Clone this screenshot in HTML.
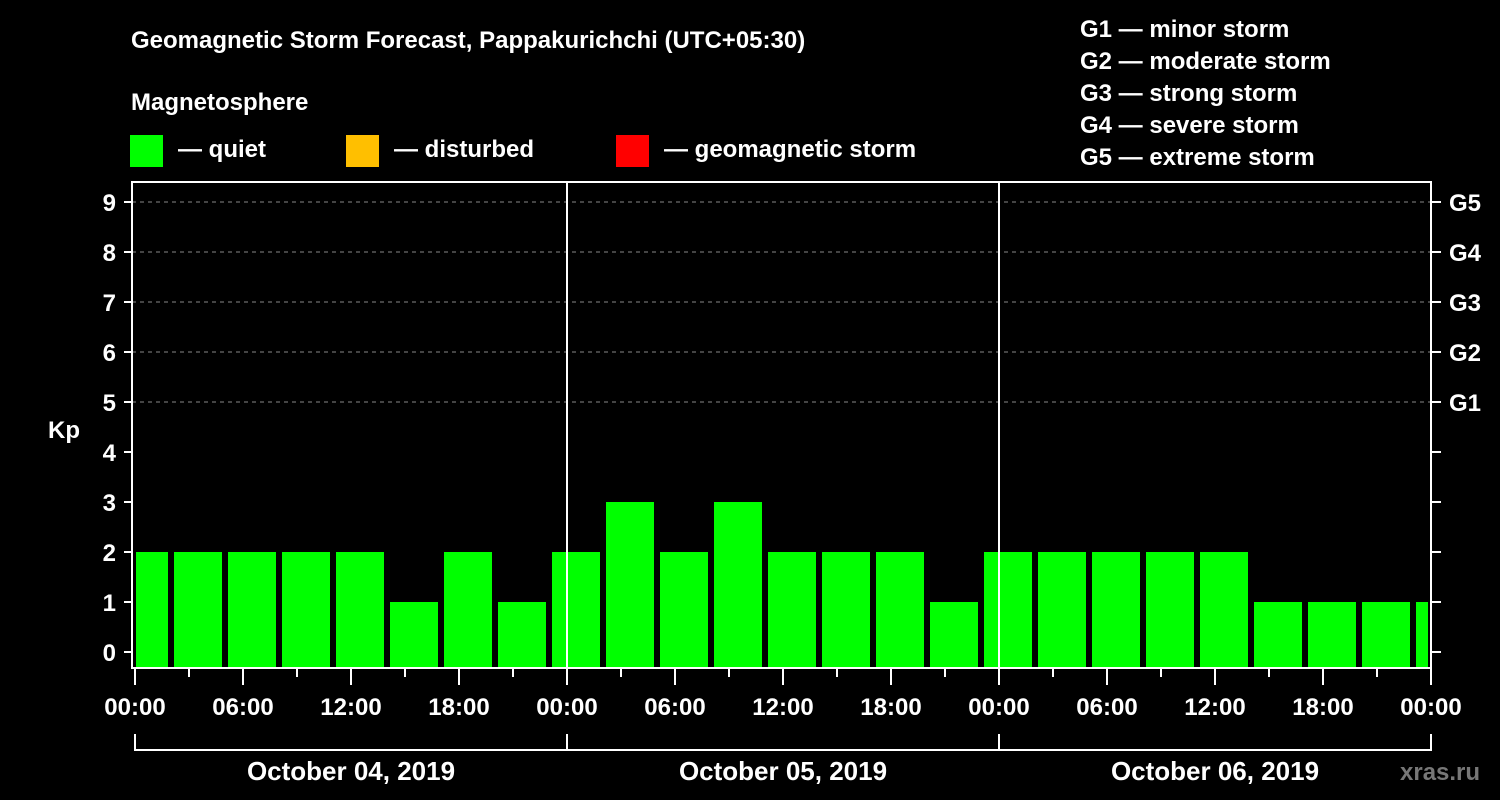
<!DOCTYPE html>
<html><head><meta charset="utf-8"><style>
html,body{margin:0;padding:0;background:#000;width:1500px;height:800px;overflow:hidden}
svg text{font-family:"Liberation Sans",Arial,sans-serif;font-weight:bold;fill:#fff}
</style></head><body>
<svg id="chart" width="1500" height="800" xmlns="http://www.w3.org/2000/svg">
<text x="131" y="48" font-size="24">Geomagnetic Storm Forecast, Pappakurichchi (UTC+05:30)</text>
<text x="131" y="110" font-size="24">Magnetosphere</text>
<g><rect x="130" y="135" width="33" height="32" fill="#00ff00"/><text x="178" y="157" font-size="24">— quiet</text></g>
<g><rect x="346" y="135" width="33" height="32" fill="#ffbf00"/><text x="394" y="157" font-size="24">— disturbed</text></g>
<g><rect x="616" y="135" width="33" height="32" fill="#ff0000"/><text x="664" y="157" font-size="24">— geomagnetic storm</text></g>
<g font-size="24">
<text x="1080" y="37">G1 — minor storm</text>
<text x="1080" y="69">G2 — moderate storm</text>
<text x="1080" y="101">G3 — strong storm</text>
<text x="1080" y="133">G4 — severe storm</text>
<text x="1080" y="165">G5 — extreme storm</text>
</g>
<text x="64" y="438" font-size="24" text-anchor="middle">Kp</text>
<text x="1400" y="780" font-size="24" style="fill:#777">xras.ru</text>
<g id="grid"></g><g id="bars"></g><g id="axes"></g>
</svg>
<script>
const kpValues=[2,2,2,2,2,1,2,1,2,3,2,3,2,2,2,1,2,2,2,2,2,1,1,1,1];
const firstSlotHour=-1; // first bar slot starts at -1h (local), 3h slots
const yTicks=[0,1,2,3,4,5,6,7,8,9];
const gLabels=["G1","G2","G3","G4","G5"];
const gLevels=[5,6,7,8,9];
const xTickLabels=["00:00","06:00","12:00","18:00","00:00","06:00","12:00","18:00","00:00","06:00","12:00","18:00","00:00"];
const dayLabels=["October 04, 2019","October 05, 2019","October 06, 2019"];
const NS="http://www.w3.org/2000/svg";
const L=132,R=1431,T=182,B=668,X0=135;
const xs=h=>X0+h*18, ys=v=>652-v*50;
function mk(p,tag,a){const e=document.createElementNS(NS,tag);for(const k in a)e.setAttribute(k,a[k]);p.appendChild(e);return e;}
const grid=document.getElementById('grid'),bars=document.getElementById('bars'),axes=document.getElementById('axes');
gLevels.forEach(v=>{const l=mk(grid,'line',{x1:L,x2:R,y1:ys(v),y2:ys(v),stroke:'#888','stroke-width':1,'stroke-dasharray':'4,4'});

});
kpValues.forEach((v,i)=>{const s=firstSlotHour+3*i;let x1=xs(s)+3,x2=xs(s+3)-3;x1=Math.max(x1,L+4);x2=Math.min(x2,R-3);
const c=v>=5?'#ff0000':(v>=4?'#ffbf00':'#00ff00');
const r=mk(bars,'rect',{x:x1,y:ys(v),width:x2-x1,height:B-ys(v),fill:c});

});
[1,2].forEach(d=>{const l=mk(axes,'line',{x1:xs(24*d),x2:xs(24*d),y1:T,y2:B,stroke:'#fff','stroke-width':2});

});
const fr=mk(axes,'rect',{x:L,y:T,width:R-L,height:B-T,fill:'none',stroke:'#fff','stroke-width':2});


yTicks.forEach(v=>{mk(axes,'line',{x1:124,x2:L,y1:ys(v),y2:ys(v),stroke:'#fff','stroke-width':2});
mk(axes,'line',{x1:R,x2:1441,y1:ys(v),y2:ys(v),stroke:'#fff','stroke-width':2});
const t=mk(axes,'text',{x:116,y:ys(v)+9,'font-size':24,'text-anchor':'end'});t.textContent=v;

});
gLevels.forEach((v,i)=>{const t=mk(axes,'text',{x:1449,y:ys(v)+9,'font-size':24});t.textContent=gLabels[i];

});
for(let h=0;h<=72;h+=3){mk(axes,'line',{x1:xs(h),x2:xs(h),y1:B,y2:h%6==0?685:677,stroke:'#fff','stroke-width':2});}
xTickLabels.forEach((s,i)=>{const t=mk(axes,'text',{x:xs(6*i),y:715,'font-size':24,'text-anchor':'middle'});t.textContent=s;

});
mk(axes,'path',{d:`M${xs(0)},734V750H${xs(72)}V734`,fill:'none',stroke:'#fff','stroke-width':2});
[1,2].forEach(d=>mk(axes,'line',{x1:xs(24*d),x2:xs(24*d),y1:734,y2:750,stroke:'#fff','stroke-width':2}));
dayLabels.forEach((s,i)=>{const t=mk(axes,'text',{x:xs(24*i+12),y:780,'font-size':26,'text-anchor':'middle'});t.textContent=s;

});
</script>
</body></html>
